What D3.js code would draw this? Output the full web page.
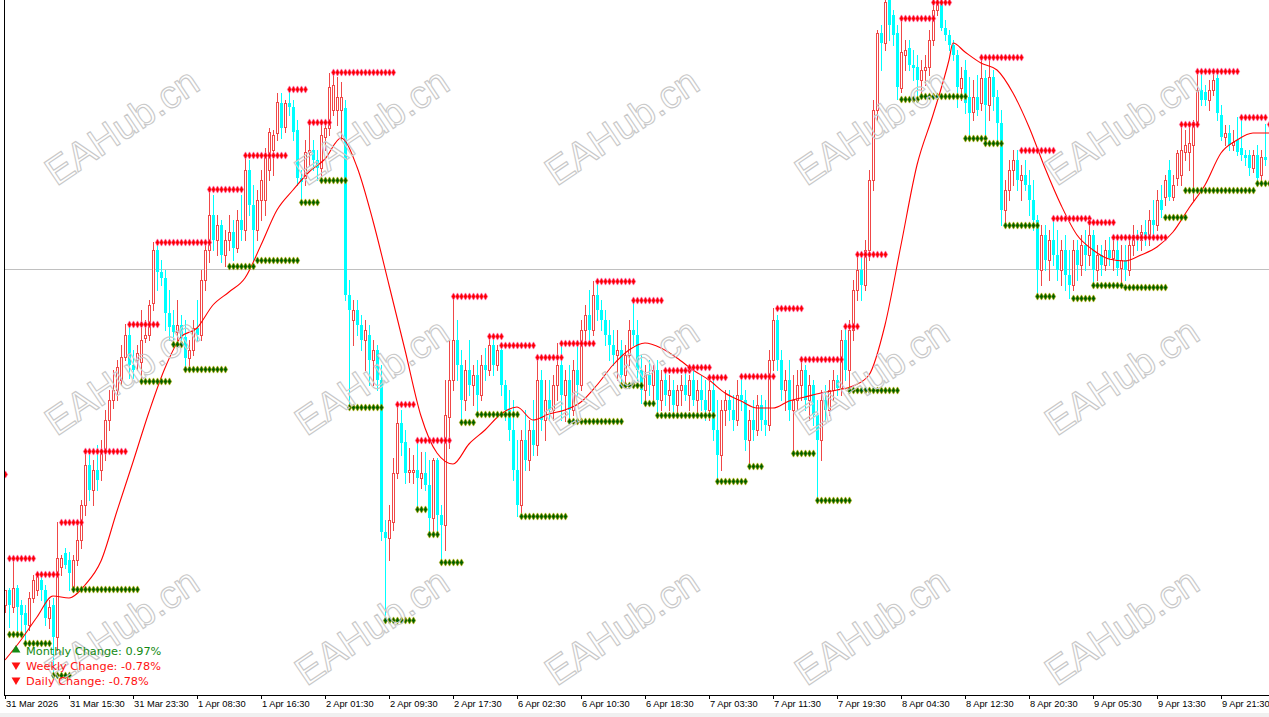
<!DOCTYPE html>
<meta charset="utf-8">
<script src="https://d3js.org/d3.v7.min.js"></script>
<style>
  body { margin: 0; background: #fff; overflow: hidden; }
</style>
<div id="chart"></div>
<script>

// M30 candles, one value per bar (prices in chart units)
var opens = [
  395,410,393,412,395,387,375,402,410,420, 410,382,395,363,433,447,440,413,440,460,
  495,535,510,530,530,550,580,600,610,620, 643,665,635,640,638,662,665,697,750,728,
  722,687,675,668,675,663,642,650,672,665, 720,750,785,760,775,745,760,768,752,780,
  770,830,795,770,800,800,830,850,867,897, 873,897,893,870,822,822,848,850,840,832,
  863,872,890,890,890,892,705,680,690,675, 660,665,640,650,620,468,462,478,527,577,
  558,528,528,530,522,527,515,482,540,485, 475,583,620,660,635,600,630,615,625,605,
  635,630,655,635,650,615,590,570,530,495, 560,540,570,555,620,580,600,590,615,635,
  605,620,590,630,615,670,685,670,705,690, 680,665,655,645,650,625,645,670,665,630,
  610,625,615,630,600,620,605,610,595,610, 615,605,620,600,610,600,590,610,570,545,
  590,600,590,580,605,600,560,580,570,595, 580,575,640,680,640,610,620,590,600,615,
  630,600,615,585,560,600,590,610,620,612, 660,630,670,710,730,715,750,820,890,967,
  957,1000,985,967,912,945,952,935,933,920, 930,933,960,990,998,972,965,955,945,912,
  930,903,888,903,897,922,895,923,903,877, 790,810,830,840,820,825,815,800,780,730,
  765,740,760,745,730,750,725,715,750,735, 755,745,765,730,745,735,750,742,750,732,
  740,730,755,765,760,768,762,780,775,800, 803,830,803,822,825,848,848,855,878,910,
  908,900,910,922,885,863,867,855,860,852, 845,845,832,845,825,843
];
var highs = [
  410,412,443,415,400,395,408,425,428,428, 415,400,402,478,445,452,448,445,480,500,
  549,545,540,555,560,590,610,630,640,655, 676,675,650,655,690,680,700,758,755,740,
  730,710,690,700,685,680,660,680,700,730, 760,811,805,785,780,770,785,780,790,805,
  845,840,815,810,830,852,872,870,907,907, 900,912,900,880,830,860,878,860,850,875,
  878,927,928,923,918,900,720,700,700,685, 680,675,660,655,635,480,495,542,596,590,
  570,552,545,560,548,548,540,542,542,495, 620,660,704,680,650,640,660,635,640,645,
  652,664,660,655,655,620,610,600,560,570, 590,580,600,643,630,620,620,625,657,657,
  630,635,640,660,680,695,710,719,715,700, 690,680,670,670,660,655,680,700,680,645,
  635,640,635,640,630,630,625,620,615,625, 633,625,630,620,625,620,623,620,600,600,
  610,610,605,620,624,610,590,600,605,605, 600,650,692,685,650,630,640,625,630,641,
  635,625,620,600,610,615,620,630,625,670, 674,680,720,746,745,760,830,900,970,975,
  1000,1005,990,975,983,960,960,950,945,940, 945,970,995,1005,1005,980,970,960,950,933,
  940,923,920,925,943,930,943,930,910,890, 820,840,850,850,835,840,830,820,785,775,
  775,770,782,770,760,765,750,760,760,765, 770,778,770,755,755,760,763,760,760,755,
  755,765,775,770,775,780,790,800,810,815, 825,840,825,850,876,870,875,880,927,929,
  915,920,928,928,895,875,875,870,883,880, 850,850,850,855,850,876
];
var lows = [
  388,373,388,370,365,360,370,398,405,400, 375,372,326,350,425,432,410,408,435,452,
  485,500,495,510,520,540,570,592,600,615, 640,622,622,630,619,658,660,690,710,715,
  670,660,656,660,655,631,635,645,660,660, 710,738,750,745,738,734,750,740,748,760,
  760,785,740,760,780,785,820,825,860,862, 868,885,860,815,798,815,835,830,820,820,
  850,865,885,875,860,700,593,655,665,650, 630,615,615,610,460,380,440,470,522,545,
  517,518,517,491,512,510,466,467,463,438, 450,552,610,620,578,590,605,595,586,600,
  620,625,625,630,605,580,560,520,484,488, 530,530,545,545,570,560,580,580,600,580,
  579,579,585,605,610,655,660,665,680,670, 655,640,635,620,615,615,635,655,620,597,
  597,605,600,585,590,595,590,585,588,595, 600,590,595,585,590,580,580,560,519,530,
  575,580,570,575,590,550,534,560,565,570, 565,570,630,630,600,590,580,547,590,600,
  590,580,575,500,540,580,585,600,605,605, 620,610,660,700,700,710,740,810,880,930,
  950,960,955,901,908,930,930,920,904,905, 915,925,955,985,970,960,950,940,893,900,
  887,862,880,885,890,857,880,890,860,775, 775,800,815,810,800,810,785,770,704,715,
  730,720,735,720,715,710,702,710,720,725, 730,735,715,720,725,730,735,730,725,713,
  720,725,745,750,750,755,755,765,770,783, 795,800,800,815,815,840,830,800,875,895,
  895,890,905,880,860,855,850,850,845,840, 835,825,828,817,820,835
];
var closes = [
  410,395,412,393,385,375,402,420,427,410, 382,393,363,442,442,435,427,440,460,495,
  535,510,530,520,550,580,600,610,633,643, 665,635,630,647,660,665,695,750,728,722,
  687,673,668,675,663,642,650,672,665,720, 750,785,760,775,745,760,768,752,780,770,
  830,795,770,800,820,845,868,865,898,872, 897,893,868,822,818,848,850,840,832,865,
  872,913,915,903,903,705,690,690,675,660, 670,640,650,620,468,462,480,527,577,557,
  527,530,530,522,527,515,482,540,485,475, 585,620,660,635,600,630,615,625,605,635,
  630,655,635,650,615,590,570,530,495,560, 540,570,555,620,580,600,590,615,635,605,
  620,590,630,615,670,685,670,705,690,680, 665,655,645,650,625,645,670,665,630,610,
  625,615,630,600,620,605,610,595,610,615, 605,620,600,610,600,590,610,570,545,590,
  600,590,580,605,600,560,580,570,595,580, 575,640,680,640,610,620,590,600,615,630,
  600,615,585,560,600,590,610,620,612,660, 630,670,710,730,715,750,820,890,967,957,
  998,975,965,913,948,950,935,932,920,930, 933,960,990,998,972,965,955,945,913,922,
  897,887,903,890,922,895,923,903,877,790, 810,830,840,820,825,815,800,780,730,765,
  740,760,745,730,750,725,715,750,735,755, 745,765,730,745,735,750,742,750,732,740,
  730,755,765,760,768,762,780,775,800,790, 820,803,815,847,850,855,857,878,910,900,
  900,910,920,887,863,867,855,858,848,845, 842,832,845,822,843,840
];

// time axis labels, one every 16 bars
var timeLabels = ["31 Mar 2026", "31 Mar 15:30", "31 Mar 23:30", "1 Apr 08:30", "1 Apr 16:30",
  "2 Apr 01:30", "2 Apr 09:30", "2 Apr 17:30", "6 Apr 02:30", "6 Apr 10:30",
  "6 Apr 18:30", "7 Apr 03:30", "7 Apr 11:30", "7 Apr 19:30", "8 Apr 04:30",
  "8 Apr 12:30", "8 Apr 20:30", "9 Apr 05:30", "9 Apr 13:30", "9 Apr 21:30"];

// moving average
var maBars = [0,4,8,12,16,20,24,28,32,36,40,44,48,52,56,60,64,68,72,76,80,84,88,92,96,100,104,108,112,116,
  120,124,128,132,136,140,144,148,152,156,160,164,168,172,176,180,184,188,192,196,200,204,208,212,216,220,224,228,232,236,
  237,240,244,248,252,256,260,264,268,272,276,280,284,288,292,296,300,304,308,312,316];
var maValues = [340,360,383,404,402,415,439,489,538,588,632,663,672,695,708,722,755,790,810,828,841,862,833,779,715,650,584,547,536,556,
  570,586,593,580,586,590,598,615,635,650,657,652,642,630,620,607,599,592,592,599,603,607,610,614,625,675,755,835,885,940,
  957,948,937,930,907,873,832,795,765,750,741,739,745,753,768,792,815,847,860,867,867];

// dotted levels: [first bar, last bar, price]
var resistance = [[0,0,526],[1,7,442],[8,13,426],[14,19,478],[20,30,549],[31,38,676],[38,51,758],[51,59,811],
  [60,70,845],[71,75,911],[76,81,878],[82,97,928],[98,102,596],[103,111,560],[112,120,704],[121,124,664],
  [124,132,655],[133,139,643],[139,147,657],[148,157,719],[157,164,700],[165,171,630],[171,176,633],[176,180,623],
  [184,192,624],[193,199,692],[199,209,641],[210,213,674],[213,220,746],[224,232,982],[232,236,998],[244,254,943],
  [254,262,850],[262,271,782],[271,277,778],[277,290,763],[294,298,876],[298,308,929],[309,315,883],[316,316,876]];
var support = [[1,4,366],[5,11,357],[12,16,325],[17,33,411],[34,41,619],[42,44,656],[45,55,631],[56,62,734],
  [63,73,740],[74,78,798],[79,85,820],[86,94,593],[95,102,380],[103,105,491],[106,108,466],[109,114,438],
  [114,117,578],[118,128,586],[129,140,484],[141,154,579],[154,159,615],[160,162,597],[163,177,585],[178,185,519],
  [186,189,534],[197,202,547],[203,211,500],[211,223,610],[224,228,901],[229,240,904],[240,245,862],[245,249,857],
  [250,258,775],[258,262,704],[267,272,702],[272,279,715],[280,290,713],[290,295,783],[295,312,810],[313,316,817]];

var hLinePrice = 731;

var changeNames = ["Monthly Change: 0.97%", "Weekly Change: -0.78%", "Daily Change: -0.78%"];
var changeUp = [true, false, false];

var width = 1269, height = 717;
var plotBottom = 695;
var bullColor = "#f04848", bearColor = "#00ffff";

var svg = d3.select("#chart")
  .append("svg")
    .attr("width", width)
    .attr("height", height)
    .style("display", "block")
    .style("font-family", "'Liberation Sans', Arial, sans-serif");

var x = d3.scaleLinear().domain([0, 316]).range([5, 1269]);
var y = d3.scaleLinear().domain([1000, 283]).range([0, 717]);

svg.append("defs").append("clipPath").attr("id", "plot")
  .append("rect").attr("x", 5).attr("y", 0).attr("width", width - 5).attr("height", plotBottom);

svg.append("rect").attr("x", 0).attr("y", 713).attr("width", width).attr("height", 4).attr("fill", "#f0f0f0");

var plot = svg.append("g").attr("clip-path", "url(#plot)");

// horizontal line object
plot.append("line")
  .attr("x1", 5).attr("x2", width)
  .attr("y1", Math.round(y(hLinePrice)) + 0.5).attr("y2", Math.round(y(hLinePrice)) + 0.5)
  .attr("stroke", "#c0c0c0");

// candles
var candles = d3.range(opens.length).map(function(i) {
  return {i: i, o: opens[i], h: highs[i], l: lows[i], c: closes[i]};
});

var cg = plot.append("g").selectAll("g").data(candles).enter().append("g");
cg.each(function(d) {
  var g = d3.select(this);
  var cx = Math.round(x(d.i));
  var bull = d.c >= d.o;
  var col = bull ? bullColor : bearColor;
  var top = Math.round(y(Math.max(d.o, d.c))), bot = Math.round(y(Math.min(d.o, d.c)));
  g.append("line")
    .attr("x1", cx + 0.5).attr("x2", cx + 0.5)
    .attr("y1", Math.round(y(d.h))).attr("y2", Math.round(y(d.l)) + 1)
    .attr("stroke", col);
  if (bull) {
    g.append("rect")
      .attr("x", cx - 0.5).attr("y", top + 0.5)
      .attr("width", 2).attr("height", Math.max(bot - top, 0))
      .attr("fill", "#fff").attr("stroke", col);
  } else {
    g.append("rect")
      .attr("x", cx - 1).attr("y", top)
      .attr("width", 3).attr("height", Math.max(bot - top, 1))
      .attr("fill", col);
  }
});

// moving average
plot.append("path")
  .datum(maBars.map(function(b, k) { return [b, maValues[k]]; }))
  .attr("fill", "none")
  .attr("stroke", "#ff0000")
  .attr("stroke-width", 1.1)
  .attr("d", d3.line()
    .x(function(d) { return x(d[0]); })
    .y(function(d) { return y(d[1]); })
    .curve(d3.curveMonotoneX));

// dotted levels
function drawLevels(levels, fill, halo) {
  var pts = [];
  levels.forEach(function(lv) {
    for (var b = lv[0]; b <= lv[1]; b++) pts.push([b, lv[2]]);
  });
  plot.append("g").selectAll("path").data(pts).enter().append("path")
    .attr("transform", function(d) { return "translate(" + (Math.round(x(d[0])) + 0.5) + "," + (Math.round(y(d[1])) + 0.5) + ")"; })
    .attr("d", d3.symbol().type(d3.symbolDiamond).size(15))
    .attr("fill", fill)
    .attr("stroke", halo)
    .attr("stroke-width", 0.7);
}
drawLevels(support, "#006000", "#a8a800");
drawLevels(resistance, "#ff0000", "#ff5c9c");

// watermark
var wm = svg.append("g");
[127, 377, 627].forEach(function(cy) {
  [122, 372, 622, 872, 1122].forEach(function(cx) {
    wm.append("text")
      .attr("transform", "translate(" + cx + "," + cy + ") rotate(-34)")
      .attr("y", 13)
      .attr("text-anchor", "middle")
      .attr("font-size", 39)
      .attr("fill", "none")
      .attr("stroke", "#c8c8c8")
      .attr("stroke-width", 1.1)
      .text("EAHub.cn");
  });
});

// change legend
changeNames.forEach(function(t, k) {
  var yy = 655 + k * 15;
  var col = changeUp[k] ? "#138a13" : "#ff1111";
  svg.append("path")
    .attr("transform", "translate(16," + (yy - 5) + ")" + (changeUp[k] ? "" : " rotate(180)"))
    .attr("d", d3.symbol().type(d3.symbolTriangle).size(34))
    .attr("fill", col);
  svg.append("text")
    .attr("x", 26).attr("y", yy)
    .attr("font-family", "'DejaVu Sans', Verdana, sans-serif")
    .attr("font-size", 11.3)
    .attr("fill", col)
    .text(t);
});

// frame and time axis
svg.append("line").attr("x1", 4.5).attr("x2", 4.5).attr("y1", 0).attr("y2", plotBottom + 1).attr("stroke", "#000");
svg.append("line").attr("x1", 4).attr("x2", width).attr("y1", plotBottom + 0.5).attr("y2", plotBottom + 0.5).attr("stroke", "#000");

var axis = svg.append("g");
timeLabels.forEach(function(t, k) {
  var tx = Math.round(x(k * 16)) + 0.5;
  axis.append("line").attr("x1", tx).attr("x2", tx).attr("y1", plotBottom).attr("y2", plotBottom + 4).attr("stroke", "#000");
  axis.append("text")
    .attr("x", tx + 0.5).attr("y", 707)
    .attr("font-size", 9.3)
    .attr("fill", "#000")
    .text(t);
});

</script>
